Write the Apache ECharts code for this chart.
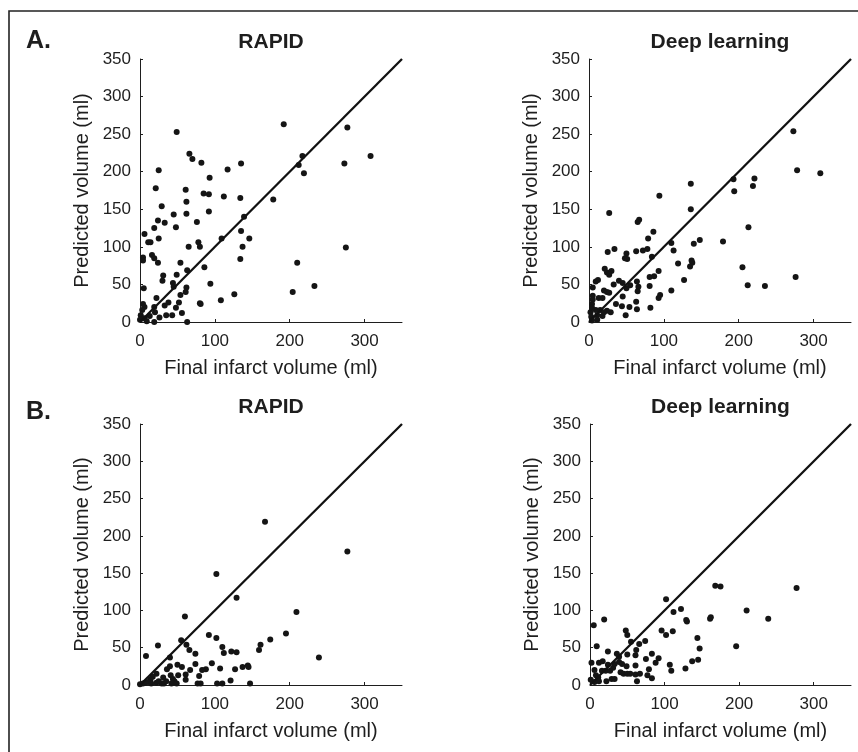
<!DOCTYPE html>
<html lang="en">
<head>
    <meta charset="UTF-8">
    <title>Predicted vs final infarct volume</title>
    <script src="https://cdn.jsdelivr.net/npm/echarts@6.0.0/dist/echarts.min.js"></script>
    <style>
        body, html {
            margin: 0;
            padding: 0;
            background-color: #ffffff;
        }
        #chart {
            width: 858px;
            height: 752px;
        }
    </style>
</head>
<body>
    <div id="chart"></div>

    <script>
        // [final infarct volume, predicted volume] in ml
        const rapidA = [
            [192, 263], [277, 259], [49, 253], [66, 224], [70, 217], [82, 212], [135, 211], [217, 221],
            [212, 209], [219, 198], [273, 211], [308, 221], [25, 202], [117, 203], [93, 192], [21, 178],
            [61, 176], [85, 171], [92, 170], [112, 167], [134, 165], [178, 163], [62, 160], [29, 154],
            [92, 147], [62, 144], [45, 143], [139, 140], [24, 135], [76, 133], [33, 132], [19, 125],
            [48, 126], [135, 121], [6, 117], [146, 111], [109, 111], [25, 111], [11, 106], [14, 106],
            [78, 106], [80, 100], [65, 100], [137, 100], [275, 99], [4, 86], [4, 82], [16, 89],
            [19, 85], [24, 79], [54, 79], [134, 84], [210, 79], [86, 73], [63, 69], [31, 62],
            [30, 55], [49, 63], [44, 52], [45, 47], [94, 51], [233, 48], [5, 45], [62, 46],
            [61, 40], [54, 36], [204, 40], [126, 37], [22, 32], [38, 26], [52, 26], [80, 25],
            [81, 24], [108, 29], [33, 22], [4, 24], [6, 20], [19, 20], [48, 19], [20, 13],
            [56, 12], [3, 16], [1, 9], [35, 9], [43, 9], [26, 6], [6, 5], [0, 3],
            [9, 1], [19, 0], [63, 0], [13, 8]
        ];

        const deepA = [
            [273, 254], [278, 202], [309, 198], [136, 184], [193, 190], [221, 191], [219, 181], [194, 174],
            [94, 168], [136, 150], [27, 145], [67, 136], [65, 133], [213, 126], [86, 120], [79, 111],
            [148, 109], [179, 107], [140, 104], [110, 105], [113, 95], [34, 97], [25, 93], [63, 94],
            [72, 95], [78, 97], [50, 91], [48, 85], [51, 84], [84, 87], [137, 82], [138, 79],
            [119, 78], [135, 74], [205, 73], [21, 71], [24, 66], [30, 68], [27, 63], [93, 68],
            [81, 60], [87, 61], [276, 60], [127, 56], [9, 54], [12, 56], [40, 55], [45, 52],
            [55, 49], [64, 54], [66, 47], [33, 50], [81, 48], [212, 49], [235, 48], [5, 46],
            [20, 42], [24, 40], [27, 39], [50, 45], [65, 41], [13, 32], [18, 32], [45, 34],
            [95, 36], [93, 32], [110, 42], [5, 35], [4, 24], [36, 24], [63, 27], [64, 17],
            [54, 20], [44, 21], [82, 19], [29, 13], [24, 15], [49, 9], [18, 8], [11, 9],
            [9, 16], [2, 13], [3, 7], [11, 3], [4, 2], [4, 19], [5, 30], [15, 16],
            [20, 13]
        ];

        const rapidB = [
            [167, 219], [277, 179], [102, 149], [129, 117], [60, 92], [209, 98], [195, 69], [174, 61],
            [92, 67], [102, 63], [55, 60], [62, 54], [66, 47], [74, 42], [110, 51], [112, 43],
            [122, 45], [129, 44], [161, 54], [159, 47], [24, 53], [8, 39], [40, 37], [239, 37],
            [96, 29], [50, 27], [56, 24], [40, 25], [36, 21], [74, 28], [88, 21], [83, 20],
            [107, 22], [127, 21], [137, 24], [144, 26], [145, 24], [67, 20], [61, 14], [51, 13],
            [41, 13], [22, 15], [17, 11], [14, 7], [11, 4], [44, 8], [46, 5], [79, 12],
            [61, 7], [121, 6], [4, 2], [7, 3], [22, 3], [29, 2], [32, 2], [42, 2],
            [49, 2], [77, 2], [81, 2], [103, 2], [110, 2], [147, 2], [15, 2], [0, 1],
            [35, 5], [25, 5], [31, 10]
        ];

        const deepB = [
            [168, 133], [175, 132], [277, 130], [102, 115], [122, 102], [112, 98], [129, 87], [130, 85],
            [161, 89], [162, 91], [210, 100], [239, 89], [5, 80], [19, 88], [48, 73], [50, 67],
            [96, 73], [102, 67], [111, 72], [144, 63], [55, 58], [74, 59], [66, 55], [9, 52],
            [24, 45], [62, 47], [147, 49], [196, 52], [36, 42], [50, 41], [61, 40], [83, 42],
            [92, 36], [75, 35], [88, 30], [39, 38], [39, 31], [2, 30], [12, 30], [17, 32],
            [24, 27], [31, 23], [49, 25], [61, 26], [107, 27], [109, 19], [128, 22], [137, 32],
            [145, 34], [6, 20], [16, 19], [21, 19], [41, 17], [45, 15], [50, 15], [61, 14],
            [67, 15], [79, 21], [77, 13], [83, 9], [8, 13], [1, 7], [6, 4], [22, 5],
            [29, 8], [33, 8], [63, 5], [11, 10], [27, 19], [12, 5], [33, 28], [54, 15],
            [43, 28]
        ];

        const panelTitles = ['RAPID', 'Deep learning', 'RAPID', 'Deep learning'];
        const panelData = [rapidA, deepA, rapidB, deepB];
        const identityLine = [[0, 0], [350, 350]];
        const xTicks = [0, 100, 200, 300];

        const grids = [
            { left: 140, top: 59, width: 262, height: 263 },
            { left: 589, top: 59, width: 262, height: 263 },
            { left: 140, top: 424, width: 262, height: 261 },
            { left: 590, top: 424, width: 261, height: 261 }
        ];

        const font = "'Liberation Sans', Arial, sans-serif";
        const ink = '#1e1e1e';

        const xAxes = grids.map((g, i) => ({
            gridIndex: i,
            type: 'value',
            min: 0,
            max: 350,
            interval: 100,
            name: 'Final infarct volume (ml)',
            nameLocation: 'middle',
            nameGap: 36,
            nameTextStyle: { fontFamily: font, fontSize: 20, color: ink },
            axisLine: { show: true, lineStyle: { color: ink, width: 1 } },
            axisTick: { show: true, inside: true, length: 3, customValues: xTicks, lineStyle: { color: ink } },
            axisLabel: { customValues: xTicks, margin: 11, fontFamily: font, fontSize: 17, color: ink },
            splitLine: { show: false }
        }));

        const yAxes = grids.map((g, i) => ({
            gridIndex: i,
            type: 'value',
            min: 0,
            max: 350,
            interval: 50,
            name: 'Predicted volume (ml)',
            nameLocation: 'middle',
            nameGap: 48,
            nameTextStyle: { fontFamily: font, fontSize: 20, color: ink },
            axisLine: { show: true, lineStyle: { color: ink, width: 1 } },
            axisTick: { show: true, inside: true, length: 3, lineStyle: { color: ink } },
            axisLabel: { margin: 9, fontFamily: font, fontSize: 17, color: ink },
            splitLine: { show: false }
        }));

        const series = [];
        panelData.forEach((pts, i) => {
            series.push({
                type: 'line',
                xAxisIndex: i,
                yAxisIndex: i,
                data: identityLine,
                symbol: 'none',
                silent: true,
                lineStyle: { color: '#111111', width: 2.3 }
            });
            series.push({
                type: 'scatter',
                xAxisIndex: i,
                yAxisIndex: i,
                data: pts,
                symbolSize: 6,
                itemStyle: { color: '#151515', opacity: 1 }
            });
        });

        const titleText = grids.map((g, i) => ({
            type: 'text',
            x: g.left + g.width / 2,
            y: i < 2 ? 42 : 407,
            style: {
                text: panelTitles[i],
                fontFamily: font,
                fontSize: 21,
                fontWeight: 'bold',
                fill: ink,
                textAlign: 'center',
                textVerticalAlign: 'middle'
            }
        }));

        const chart = echarts.init(document.getElementById('chart'), null, { renderer: 'canvas' });
        chart.setOption({
            backgroundColor: '#ffffff',
            animation: false,
            grid: grids,
            xAxis: xAxes,
            yAxis: yAxes,
            series: series,
            graphic: [
                // frame: only its top and left edges fall inside the picture
                {
                    type: 'rect',
                    shape: { x: 9, y: 11, width: 900, height: 800 },
                    style: { fill: null, stroke: '#222222', lineWidth: 1.6 },
                    silent: true
                },
                {
                    type: 'text', x: 26, y: 41,
                    style: { text: 'A.', fontFamily: font, fontSize: 25, fontWeight: 'bold', fill: ink, textVerticalAlign: 'middle' }
                },
                {
                    type: 'text', x: 26, y: 412,
                    style: { text: 'B.', fontFamily: font, fontSize: 25, fontWeight: 'bold', fill: ink, textVerticalAlign: 'middle' }
                }
            ].concat(titleText)
        });
    </script>
</body>
</html>
